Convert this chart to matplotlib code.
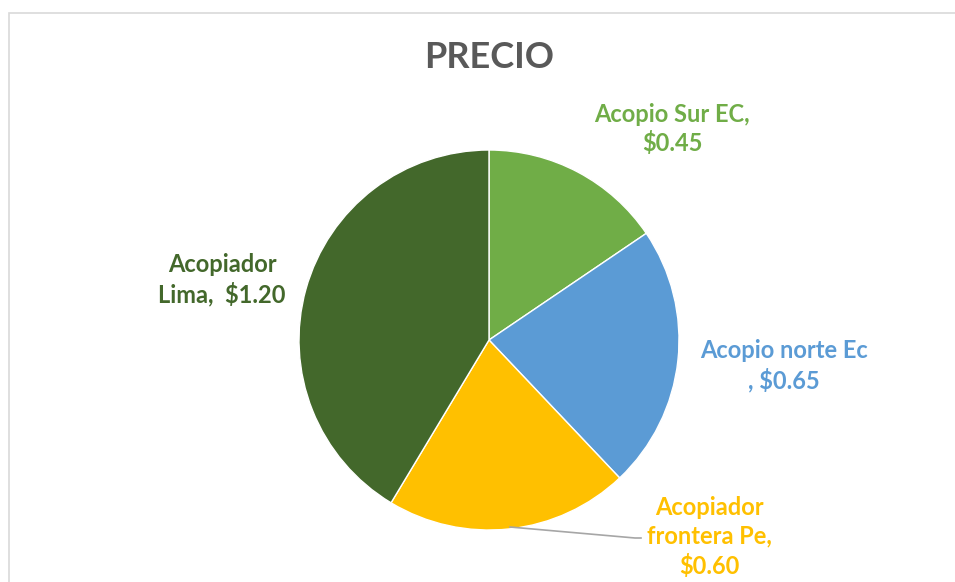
import matplotlib.pyplot as plt
from matplotlib.patches import Rectangle

labels = ["Acopio Sur EC,\n$0.45", "Acopio norte Ec\n, $0.65",
          "Acopiador\nfrontera Pe,\n$0.60", "Acopiador\nLima,  $1.20"]
prices = [0.45, 0.65, 0.60, 1.20]
colors = ["#70AD47", "#5B9BD5", "#FFC000", "#43682B"]

plt.rcParams['font.family'] = ['Lato', 'DejaVu Sans']

W, H = 955, 582
fig = plt.figure(figsize=(W / 100, H / 100), dpi=100)
ax = fig.add_axes([0, 0, 1, 1])

# light frame like the excel chart area
ax.add_patch(Rectangle((9, -10), W, H - 13 + 10, fill=False,
                       edgecolor="#D9D9D9", linewidth=1.2))

cx, cy, r = 489, H - 340, 190
ax.pie(prices, colors=colors, startangle=90, counterclock=False,
       center=(cx, cy), radius=r, frame=True,
       wedgeprops=dict(edgecolor="white", linewidth=1))
ax.set_xlim(0, W)
ax.set_ylim(0, H)
ax.set_aspect('equal')
ax.axis('off')

ax.text(489, H - 58, "PRECIO", ha='center', va='center', fontsize=26,
        fontweight='bold', color="#595959")

# label positions in pixels (x, y from top)
pos = [(672, 129), (784, 366), (709, 537), (222, 280)]
for lab, c, (px, py) in zip(labels, colors, pos):
    ax.text(px, H - py, lab.replace("$", r"\$"), ha='center', va='center',
            fontsize=17, fontweight='bold', color=c, linespacing=1.3)

# leader line for the frontera label
ax.plot([510, 635, 641], [H - 527, H - 538, H - 538], color="#A6A6A6", lw=1.2)

fig.savefig("out.png", dpi=100)
